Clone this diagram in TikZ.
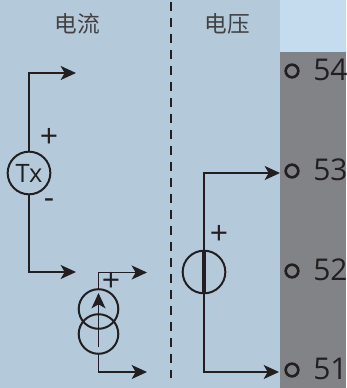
\documentclass[tikz,border=0pt]{standalone}
\usepackage{fontspec}
\setmainfont{Open Sans}
\newfontfamily\cjk{Noto Sans CJK SC}
\usetikzlibrary{arrows.meta}
\definecolor{panelblue}{HTML}{B4CADA}
\definecolor{topblue}{HTML}{C5DCEE}
\definecolor{termgrey}{HTML}{828387}
\definecolor{inkdark}{HTML}{231F20}

\begin{document}
\begin{tikzpicture}[
        x=0.75pt, y=-0.75pt,
        wire/.style={draw=inkdark, line width=1.25pt},
        arrow/.style={wire, -{Stealth[length=11.5pt, width=10.5pt, inset=3pt]}},
        source/.style={draw=inkdark, circle, line width=1.5pt, inner sep=0pt, minimum size=#1},
        terminal/.style={draw=inkdark, circle, line width=2pt, inner sep=0pt, minimum size=9.5pt},
        pin/.style={text=inkdark, font=\fontsize{22.5}{22.5}\selectfont, inner sep=0pt, anchor=west},
        title/.style={text=inkdark!85, font=\cjk\fontsize{17}{17}\selectfont, inner sep=0pt},
        sign/.style={text=inkdark, font=\fontsize{24}{24}\selectfont, inner sep=0pt}
    ]
        \useasboundingbox (0,0) rectangle (346,388);

        % Panels
        \fill[panelblue] (0,0) rectangle (346,388);
        \fill[topblue] (280,0) rectangle (346,52);
        \fill[termgrey] (280,52) rectangle (346,388);
        \draw[inkdark, line width=1.5pt, dash pattern=on 6.5pt off 5.5pt] (171,2) -- (171,378);

        % Titles
        \node[title] (current) at (77,24) {电流};
        \node[title] (voltage) at (227,24) {电压};

        % Terminals
        \node[terminal] (t54) at (292,71) {};
        \node[terminal] (t53) at (292,171) {};
        \node[terminal] (t52) at (292,271) {};
        \node[terminal] (t51) at (292,370) {};
        \node[pin] (l54) at (313,70) {54};
        \node[pin] (l53) at (313,170) {53};
        \node[pin] (l52) at (313,270) {52};
        \node[pin] (l51) at (313,369) {51};

        % Sources
        \node[source=32pt, text=inkdark, font=\fontsize{19}{19}\selectfont] (tx) at (29,173) {Tx};
        \node[source=29.7pt] (ctop) at (98.5,309) {};
        \node[source=29.7pt] (cbot) at (98.5,334) {};
        \node[source=32pt] (vs) at (204,272) {};

        % Free ends
        \coordinate (txhigh) at (76,73);
        \coordinate (txlow) at (76,272);
        \coordinate (chigh) at (147,272.5);
        \coordinate (clow) at (147,372);
        \coordinate (vhigh) at (280,173);
        \coordinate (vlow) at (279,372);
        \coordinate (ctip) at (98.5,293);
        \coordinate (ctail) at (98.5,347);

        % Arrows
        \draw[arrow] (tx.north) |- (txhigh);
        \draw[arrow] (tx.south) |- (txlow);
        \draw[arrow] (ctop.north) |- (chigh);
        \draw[arrow] (cbot.south) |- (clow);
        \draw[arrow] (ctail) -- (ctip);
        \draw[arrow] (vs.north) |- (vhigh);
        \draw[arrow] (vs.south) |- (vlow);
        \draw[inkdark, line width=3.2pt] (vs.north) -- (vs.south);

        % Signs
        \node[sign] (txplus) at (49,138) {+};
        \node[sign] (txminus) at (49,204) {-};
        \node[sign] (cplus) at (111,282) {+};
        \node[sign] (vplus) at (219,235) {+};
    \end{tikzpicture}
\end{document}
